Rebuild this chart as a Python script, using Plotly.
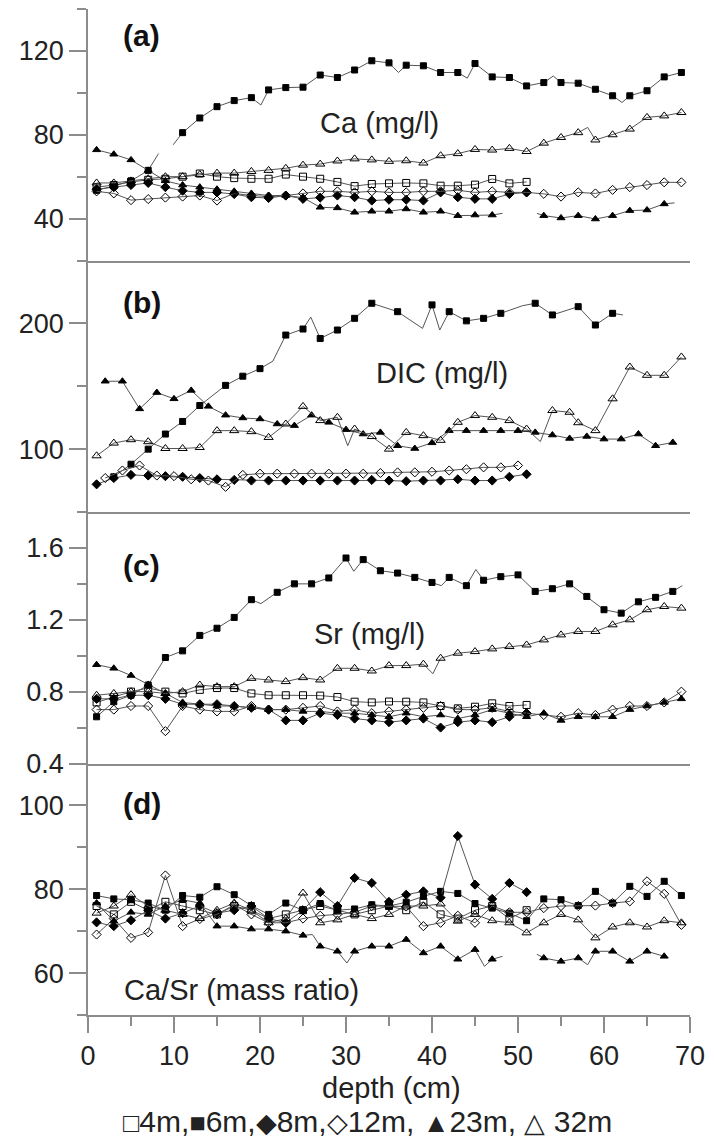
import plotly.graph_objects as go
from plotly.subplots import make_subplots

# ---------------- data (depth in cm) ----------------
# Panel (a) Ca (mg/l)
ca_4m_d = [1, 3, 5, 7, 9, 11, 13, 15, 17, 19, 21, 23, 25, 27, 29, 31, 33, 35, 37, 39, 41, 43, 45, 47, 49, 51]
ca_4m = [55, 56, 57.5, 58.5, 59, 60, 61.5, 60, 59.3, 59, 59, 61, 60, 59, 57.5, 55.5, 56.5, 56.8, 57, 56.8, 55.7, 55.7, 56.2, 58.9, 56.8, 57.5]

ca_6m_d = [1, 3, 5, 7, 8.2, 9, 9.9, 11, 13, 15, 17, 19, 20.1, 21, 23, 25, 27, 29, 31, 33, 35, 36.1, 37, 39, 41, 43, 44.1, 45, 47, 49, 51, 53, 54.1, 55, 57, 59, 61, 62.1, 63, 65, 67, 69]
ca_6m = [53.5, 55.5, 58, 63, 71, None, 75.2, 81, 88, 93.4, 96.3, 97.7, 94.2, 101.4, 102.5, 102.7, 108.5, 107.3, 110.9, 115.3, 114.3, 109.7, 113.2, 112.9, 109.7, 109.7, 107, 114, 107.6, 107.3, 103.3, 104.9, 108, 104.9, 104.6, 101.7, 98.6, 95.4, 98.6, 101, 107.6, 109.7]

ca_8m_d = [1, 3, 5, 7, 9, 11, 13, 15, 17, 19, 21, 23, 25, 27, 29, 31, 33, 35, 37, 39, 41, 43, 45, 47, 49, 51]
ca_8m = [54, 55, 56, 57, 55, 53.3, 52.5, 52.5, 51.7, 50.2, 49.8, 51, 49.4, 50, 51, 50.2, 48.6, 49, 49, 48.6, 52.5, 50.2, 49.4, 49.4, 51.7, 52.5]

ca_12m_d = [1, 3, 5, 7, 9, 11, 13, 15, 17, 19, 21, 23, 25, 27, 29, 31, 33, 35, 37, 39, 41, 43, 45, 47, 49, 51, 53, 55, 57, 59, 61, 63, 65, 67, 69]
ca_12m = [53, 52, 48.8, 49.3, 50, 50.5, 51, 48.6, 52, 51, 50.5, 51, 52, 53, 53, 52.5, 53, 52.5, 52.5, 53, 53, 53.5, 52.5, 53, 52.5, 52.5, 51.8, 50.5, 52.5, 52, 53.7, 55, 56, 57.3, 57.3]

ca_23m_d = [1, 3, 5, 7, 9, 11, 13, 15, 17, 19, 21, 23, 25, 27, 29, 31, 33, 35, 37, 39, 41, 43, 45, 47, 48.2, 50, 52.2, 53, 55, 57, 59, 61, 63, 65, 67, 68.2]
ca_23m = [72.8, 70.7, 68, 63, 58, 56, 55, 54, 53, 52, 51, 51, 50, 45.4, 45.1, 43, 43.5, 43.5, 44.6, 43, 43.5, 41.4, 41.7, 41.7, 42.5, None, 42.5, 41.4, 40.3, 41.4, 39.8, 41.4, 43.8, 44.1, 47, 47.5]

ca_32m_d = [1, 3, 5, 7, 9, 11, 13, 15, 17, 19, 21, 23, 25, 27, 29, 31, 33, 35, 37, 39, 41, 43, 45, 47, 49, 51, 53, 55, 57, 58.1, 59, 61, 63, 65, 67, 69]
ca_32m = [57, 57, 58, 59, 60, 60, 61, 61.7, 61.7, 62.5, 63, 64, 65.5, 66, 67.5, 68.5, 68, 67.3, 67.6, 66.5, 70, 71, 73, 72.7, 73.5, 72, 76, 78.7, 81, 83.5, 77.5, 80, 82.7, 88.3, 89, 90.6]

# Panel (b) DIC (mg/l)
dic_4m_d = []
dic_4m = []

dic_6m_d = [3, 5, 7, 9, 11, 13, 16, 18, 20, 21.5, 23, 25, 25.9, 27, 29, 31, 33, 36, 38.9, 40, 40.9, 42, 44, 46, 48, 50.5, 52, 54, 57, 59, 61, 62.2]
dic_6m = [78, 88, 100, 112, 122, 134.7, 150.7, 158, 164, 170, 190.7, 195.5, 205, 188, 194.7, 204, 216, 209.3, 196, 214.7, 194.7, 209.3, 202, 204, 208, 214, 216, 206.7, 213.3, 198.7, 208, 206.7]

dic_8m_d = [1, 3, 5, 7, 9, 11, 13, 15, 17, 19, 21, 23, 25, 27, 29, 31, 33, 35, 37, 39, 41, 43, 45, 47, 49, 51]
dic_8m = [72, 77, 79.5, 79, 78.5, 78, 77, 76, 75.5, 75, 75, 75, 75, 75, 75, 75, 75.5, 75, 74.5, 75, 75, 76, 75, 75, 78, 80]

dic_12m_d = [2, 4, 6, 8, 10, 12, 14, 16, 18, 20, 22, 24, 26, 28, 30, 32, 34, 36, 38, 40, 42, 44, 46, 48, 50]
dic_12m = [77, 83, 87, 79, 78.5, 76, 75, 70, 79.5, 80.5, 80.5, 80.5, 80.5, 80.5, 80.5, 80.5, 81, 81.5, 81.5, 82, 83, 84, 85.5, 85.5, 87]

dic_23m_d = [2, 4, 6, 8, 10, 12, 14, 16, 18, 20, 22, 24, 26, 28, 30, 32, 34, 36, 38, 40, 42, 44, 46, 48, 50, 52, 54, 56, 58, 60, 62, 64, 66, 68]
dic_23m = [154, 154, 132, 145, 140, 146.7, 134, 127, 124.8, 124, 120, 118.7, 127, 121.3, 115.5, 112, 113.3, 102.7, 100.5, 105, 114.7, 114.7, 114.7, 114.7, 114.7, 113.3, 111.2, 108.5, 110.1, 108, 108, 112, 102.7, 105.3]

dic_32m_d = [1, 3, 5, 7, 9, 11, 13, 15, 17, 19, 21, 23, 25, 27, 29, 30.2, 31, 33, 35, 37, 39, 41, 43, 45, 47, 49, 51, 52.6, 54, 56, 57, 59, 61, 63, 65, 67, 69]
dic_32m = [94.7, 104.8, 107.5, 105.9, 100.5, 100.5, 101.3, 114.7, 114.7, 113.9, 109.3, 120, 134, 122.7, 125.3, 102.7, 116, 110, 100, 113.3, 110.7, 107, 121.3, 126.7, 125.3, 122.7, 116, 106, 130.7, 129.3, 121, 114.7, 140, 165.3, 158.7, 158.7, 173.3]

# Panel (c) Sr (mg/l)
sr_4m_d = [1, 3, 5, 7, 9, 11, 13, 15, 17, 19, 21, 23, 25, 27, 29, 31, 33, 35, 37, 39, 41, 43, 45, 47, 49, 51]
sr_4m = [0.74, 0.77, 0.80, 0.82, 0.80, 0.79, 0.81, 0.82, 0.82, 0.79, 0.78, 0.78, 0.78, 0.778, 0.77, 0.744, 0.74, 0.745, 0.744, 0.74, 0.72, 0.707, 0.716, 0.735, 0.72, 0.726]

sr_6m_d = [1, 3, 5, 7, 9, 11, 13, 15, 17, 19, 20.1, 22, 24, 26, 28, 30, 30.9, 32, 34, 36, 38, 40, 41.1, 42, 44, 45.1, 46, 48, 50, 52, 54, 56, 58, 60, 62, 64, 66, 68, 69.1]
sr_6m = [0.66, 0.744, 0.78, 0.837, 0.99, 1.027, 1.113, 1.153, 1.213, 1.312, 1.29, 1.353, 1.40, 1.40, 1.433, 1.544, 1.47, 1.535, 1.473, 1.46, 1.436, 1.408, 1.39, 1.436, 1.39, 1.48, 1.42, 1.44, 1.45, 1.358, 1.373, 1.40, 1.33, 1.256, 1.237, 1.30, 1.325, 1.358, 1.39]

sr_8m_d = [1, 3, 5, 7, 9, 11, 13, 15, 17, 19, 21, 23, 25, 27, 29, 31, 33, 35, 37, 39, 41, 43, 45, 47, 49, 51]
sr_8m = [0.76, 0.76, 0.78, 0.78, 0.76, 0.73, 0.73, 0.73, 0.72, 0.71, 0.70, 0.64, 0.64, 0.68, 0.67, 0.65, 0.64, 0.63, 0.64, 0.65, 0.60, 0.63, 0.64, 0.63, 0.66, 0.68]

sr_12m_d = [1, 3, 5, 7, 9, 11, 13, 15, 17, 19, 21, 23, 25, 27, 29, 31, 33, 35, 37, 39, 41, 43, 45, 47, 49, 51, 53, 55, 57, 59, 61, 63, 65, 67, 69]
sr_12m = [0.70, 0.70, 0.72, 0.72, 0.58, 0.72, 0.70, 0.69, 0.69, 0.72, 0.70, 0.70, 0.71, 0.72, 0.69, 0.70, 0.68, 0.69, 0.70, 0.71, 0.72, 0.70, 0.70, 0.71, 0.69, 0.68, 0.67, 0.66, 0.68, 0.67, 0.70, 0.72, 0.72, 0.74, 0.80]

sr_23m_d = [1, 3, 5, 7, 9, 11, 13, 15, 17, 19, 21, 23, 25, 27, 29, 31, 33, 35, 37, 39, 41, 43, 45, 47, 49, 51, 53, 55, 57, 59, 61, 63, 65, 67, 69]
sr_23m = [0.95, 0.93, 0.89, 0.84, 0.79, 0.74, 0.73, 0.72, 0.72, 0.71, 0.70, 0.70, 0.69, 0.69, 0.68, 0.68, 0.67, 0.66, 0.68, 0.66, 0.67, 0.65, 0.67, 0.70, 0.68, 0.66, 0.68, 0.64, 0.66, 0.66, 0.66, 0.70, 0.72, 0.74, 0.76]

sr_32m_d = [1, 3, 5, 7, 9, 11, 13, 15, 17, 19, 21, 23, 25, 27, 29, 31, 33, 35, 37, 39, 40.1, 41, 43, 45, 47, 49, 51, 53, 55, 57, 59, 61, 63, 65, 67, 69]
sr_32m = [0.78, 0.79, 0.80, 0.80, 0.79, 0.80, 0.837, 0.828, 0.828, 0.874, 0.865, 0.856, 0.878, 0.865, 0.93, 0.93, 0.915, 0.945, 0.945, 0.953, 0.90, 0.986, 1.014, 1.023, 1.038, 1.051, 1.06, 1.088, 1.116, 1.135, 1.135, 1.172, 1.20, 1.256, 1.274, 1.265]

# Panel (d) Ca/Sr (mass ratio)
cs_4m_d = [1, 3, 5, 7, 9, 11, 13, 15, 17, 19, 21, 23, 25, 27, 29, 31, 33, 35, 37, 39, 41, 43, 45, 47, 49, 51]
cs_4m = [76, 74, 77, 75, 77, 76, 75, 74, 76, 75, 73, 74, 75, 76, 75, 74, 75, 76, 75, 77, 74, 73, 75, 76, 73, 75]

cs_6m_d = [1, 3, 5, 7, 9, 11, 13, 15, 17, 19, 21, 23, 25, 27, 29, 31, 33, 35, 37, 39, 41, 43, 45, 47, 49, 51, 53, 55, 57, 59, 61, 63, 65, 67, 69]
cs_6m = [78.5, 77.7, 77.5, 76.7, 75, 78.5, 78.1, 80.6, 78.7, 76.1, 74, 76.7, 75, 76.6, 75, 75.3, 76.3, 76, 76.9, 78.3, 79.5, 79, 76.6, 75.5, 74.3, 72.5, 77.7, 77.5, 76.1, 79.5, 76.7, 80.7, 78.3, 81.9, 78.5]

cs_8m_d = [1, 3, 5, 7, 9, 11, 13, 15, 17, 19, 21, 23, 25, 27, 29, 31, 33, 35, 37, 39, 41, 43, 45, 47, 49, 51]
cs_8m = [72.1, 71.2, 72.6, 75, 73, 74.3, 76, 74.3, 75, 76, 73, 72, 75, 79.3, 76, 82.7, 81.5, 77, 78.7, 79.5, 78, 92.7, 81.1, 77.7, 81.5, 79.3]

cs_12m_d = [1, 3, 5, 7, 9, 11, 13, 15, 17, 19, 21, 23, 25, 27, 29, 31, 33, 35, 37, 39, 41, 43, 45, 47, 49, 51, 53, 55, 57, 59, 61, 63, 65, 67, 69]
cs_12m = [69.2, 73, 68.4, 69.7, 83.3, 71.2, 72.9, 74, 76.3, 74, 72, 72, 73, 73.7, 74, 74.5, 76, 76, 75.9, 71.2, 72, 73.7, 72, 76, 74.5, 74.5, 75.5, 76, 76, 76.1, 76.7, 77.1, 81.9, 78.9, 71.5]

cs_23m_d = [1, 3, 5, 7, 9, 11, 13, 15, 17, 19, 21, 23, 25, 26.1, 27, 29, 30.1, 31, 33, 35, 37, 39, 41, 43, 45, 46.1, 47, 48.2, 50, 52.2, 53, 55, 57, 58.1, 59, 61, 63, 65, 67]
cs_23m = [76.7, 72.4, 74.5, 74, 76, 77.5, 76.7, 71.2, 71.2, 70.5, 70.5, 70, 69, 69.2, 66.4, 65.2, 62.4, 65.2, 66.4, 66.4, 68, 64.8, 66.4, 63.3, 65.6, 61.6, 63.3, 64, None, 64.5, 63.6, 62.8, 63.6, 62, 65.2, 65.2, 62.8, 65.2, 64]

cs_32m_d = [1, 3, 5, 7, 9, 11, 13, 15, 17, 19, 21, 23, 25, 27, 29, 31, 33, 35, 37, 39, 41, 43, 45, 47, 49, 51, 53, 55, 57, 59, 61, 63, 65, 67, 69]
cs_32m = [74.3, 76, 78.7, 76, 75, 74, 73, 75, 76.7, 75, 72, 73, 79.1, 72, 72.7, 74, 73, 74, 76, 76, 76.5, 72.4, 74, 72.5, 72, 69.6, 72, 74, 72.7, 68.4, 71, 72, 71, 72.5, 72]

series_names = ["4m", "6m", "8m", "12m", "23m", "32m"]
series_symbols = ["square-open", "square", "diamond", "diamond-open", "triangle-up", "triangle-up-open"]
series_sizes = [7, 6, 7, 7, 7, 8]

panels = [
    [(ca_4m_d, ca_4m), (ca_6m_d, ca_6m), (ca_8m_d, ca_8m), (ca_12m_d, ca_12m), (ca_23m_d, ca_23m), (ca_32m_d, ca_32m)],
    [(dic_4m_d, dic_4m), (dic_6m_d, dic_6m), (dic_8m_d, dic_8m), (dic_12m_d, dic_12m), (dic_23m_d, dic_23m), (dic_32m_d, dic_32m)],
    [(sr_4m_d, sr_4m), (sr_6m_d, sr_6m), (sr_8m_d, sr_8m), (sr_12m_d, sr_12m), (sr_23m_d, sr_23m), (sr_32m_d, sr_32m)],
    [(cs_4m_d, cs_4m), (cs_6m_d, cs_6m), (cs_8m_d, cs_8m), (cs_12m_d, cs_12m), (cs_23m_d, cs_23m), (cs_32m_d, cs_32m)],
]

y_ranges = [[20, 140], [50, 250], [0.4, 1.8], [50, 110]]
y_dtick = [40, 100, 0.4, 20]
y_minor = [20, 50, 0.2, 10]
y_tick0 = [0, 0, 0, 0]

panel_letters = ["(a)", "(b)", "(c)", "(d)"]
panel_titles = ["Ca (mg/l)", "DIC (mg/l)", "Sr (mg/l)", "Ca/Sr (mass ratio)"]

# ---------------- figure ----------------
W, H = 714, 1140
L, R, T, B = 88, 18.5, 9, 125
fig = make_subplots(rows=4, cols=1, shared_xaxes=True, vertical_spacing=0)

AX = "#8c8c8c"
FONT = "Liberation Sans, Arial, Helvetica, sans-serif"
TXT = "#222222"

for r, panel in enumerate(panels):
    for k, (dd, vv) in enumerate(panel):
        if not dd:
            continue
        marked = [float(x).is_integer() for x in dd]
        fig.add_trace(go.Scatter(
            x=dd, y=vv, mode="lines+markers", name=series_names[k],
            showlegend=False,
            line=dict(color="#555555", width=1),
            marker=dict(symbol=series_symbols[k], color="black",
                        size=[series_sizes[k] if m else 0 for m in marked],
                        opacity=[1 if m else 0 for m in marked],
                        line=dict(color="black", width=1)),
        ), row=r + 1, col=1)

for r in range(4):
    yname = "yaxis" if r == 0 else f"yaxis{r+1}"
    xname = "xaxis" if r == 0 else f"xaxis{r+1}"
    fig.layout[yname].update(
        range=y_ranges[r], tick0=y_tick0[r], dtick=y_dtick[r],
        showline=True, linecolor=AX, linewidth=1.5, mirror=False,
        ticks="outside", ticklen=17, tickwidth=1.5, tickcolor=AX,
        minor=dict(dtick=y_minor[r], tick0=0, ticklen=9, tickwidth=1.5, tickcolor=AX,
                   ticks="outside", showgrid=False),
        showgrid=False, zeroline=False,
        tickfont=dict(family=FONT, size=27, color=TXT),
    )
    xa = dict(range=[0, 70], showline=True, linecolor=AX, linewidth=1.5,
              showgrid=False, zeroline=False)
    if r < 3:
        xa.update(ticks="", showticklabels=False)
    else:
        xa.update(ticks="outside", ticklen=16, tickwidth=1.5, tickcolor=AX,
                  dtick=10, tick0=0,
                  minor=dict(dtick=5, tick0=0, ticklen=9, tickwidth=1.5, tickcolor=AX,
                             ticks="outside", showgrid=False),
                  showticklabels=True,
                  tickfont=dict(family=FONT, size=27, color=TXT))
    fig.layout[xname].update(**xa)

pw = W - L - R
ph = H - T - B


def px(x):
    return (x - L) / pw


def py(y):
    return (H - B - y) / ph


letter_y = [35, 302, 565, 803]
for r in range(4):
    fig.add_annotation(x=px(121), y=py(letter_y[r]), xref="paper", yref="paper",
                       text=f"<b>{panel_letters[r]}</b>", showarrow=False,
                       xanchor="left", yanchor="middle",
                       font=dict(family=FONT, size=30, color="#111"))

title_pos = [(320, 123), (377, 373), (314, 634), (122, 990)]
for r in range(4):
    fig.add_annotation(x=px(title_pos[r][0]), y=py(title_pos[r][1]), xref="paper", yref="paper",
                       text=panel_titles[r], showarrow=False,
                       xanchor="left", yanchor="middle",
                       font=dict(family=FONT, size=29, color=TXT))

fig.add_annotation(x=px(394.5), y=py(1088), xref="paper", yref="paper",
                   text="depth (cm)", showarrow=False, xanchor="center", yanchor="middle",
                   font=dict(family=FONT, size=29, color=TXT))

legend_glyphs = ["□", "■", "◆", "◇", "▲", "△"]
legend_sep = ["", ",", ",", ",", ", ", ", "]
parts = []
for k in range(6):
    gap = " " if k == 5 else ""
    parts.append(legend_sep[k] + f'<span style="font-size:27px">{legend_glyphs[k]}</span>' + gap + series_names[k])
legend_text = "".join(parts)
fig.add_annotation(x=px(121), y=py(1121), xref="paper", yref="paper",
                   text=legend_text, showarrow=False, xanchor="left", yanchor="middle",
                   font=dict(family=FONT, size=30, color=TXT))

fig.update_layout(width=W, height=H, margin=dict(l=L, r=R, t=T, b=B, pad=0),
                  paper_bgcolor="white", plot_bgcolor="white", showlegend=False)

fig.write_html("out.html")
